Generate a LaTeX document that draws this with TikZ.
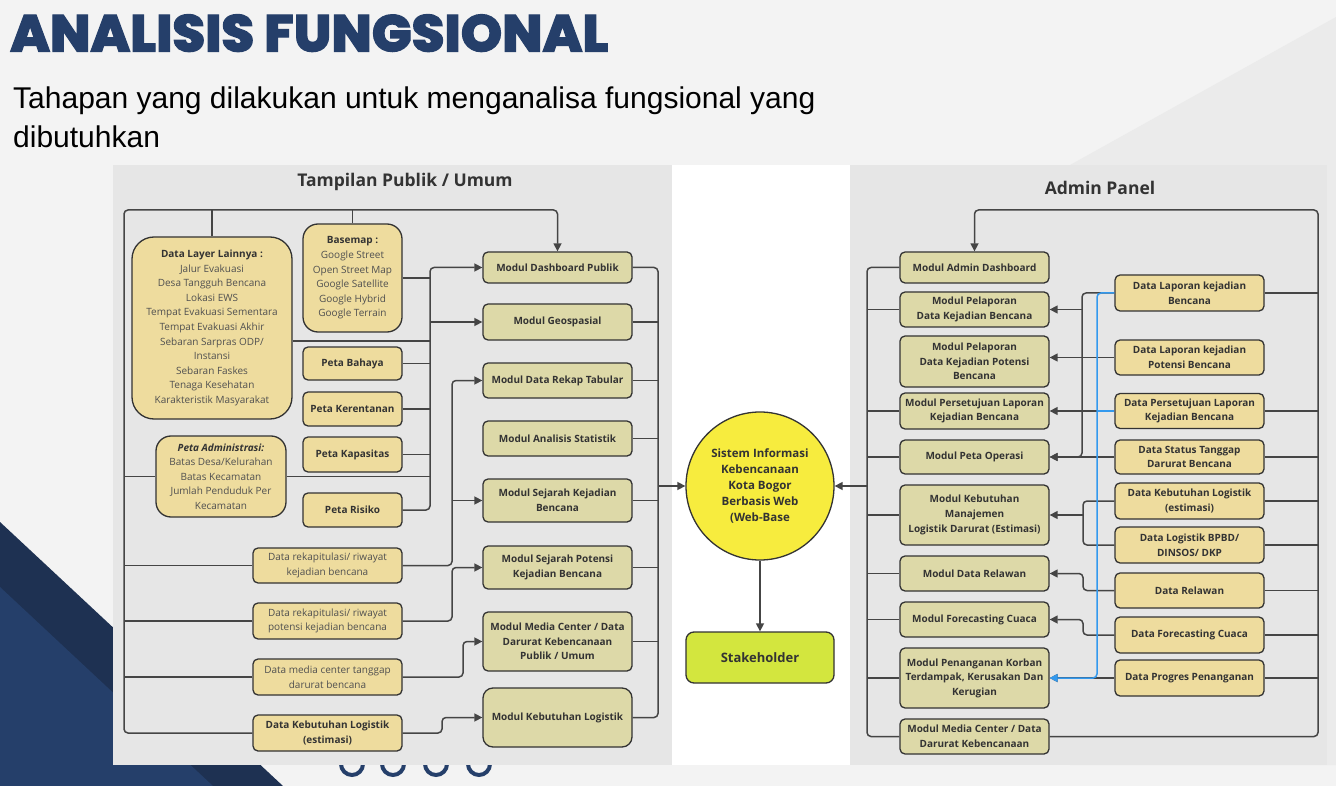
\documentclass[tikz,border=0pt]{standalone}
\usepackage{fontspec}
\setmainfont{Open Sans}
\newfontfamily\titlefont{Poppins}[BoldFont={* ExtraBold}, BoldFeatures={FakeBold=2.2}]
\newfontfamily\subfont{Liberation Sans}
\usetikzlibrary{arrows.meta}

\definecolor{bgpage}{HTML}{F3F3F3}
\definecolor{bgshade}{HTML}{EBEBEB}
\definecolor{panel}{HTML}{E6E6E6}
\definecolor{navy}{HTML}{253F6A}
\definecolor{navydark}{HTML}{1E3152}
\definecolor{datafill}{HTML}{EEDC9E}
\definecolor{modfill}{HTML}{DDD9A8}
\definecolor{ink}{HTML}{333333}
\definecolor{soft}{HTML}{505050}
\definecolor{wirec}{HTML}{454545}
\definecolor{sysyellow}{HTML}{F7EC3E}
\definecolor{lime}{HTML}{D3E63E}
\definecolor{link}{HTML}{3399EE}

\tikzset{
  box/.style={draw=ink, line width=1.3pt, align=center, inner sep=0pt, text=ink,
    font=\bfseries\fontsize{10}{14.6}\selectfont, rounded corners=5pt},
  databox/.style={box, fill=datafill},
  modbox/.style={box, fill=modfill},
  plain/.style={font=\mdseries\fontsize{10}{14.6}\selectfont, text=soft},
  wire/.style={draw=wirec, line width=1.5pt, rounded corners=4pt},
  arr/.style={-{Triangle[length=8pt,width=8pt]}},
  ptitle/.style={font=\bfseries\fontsize{17.5}{17.5}\selectfont, text=ink, inner sep=0pt},
}

\begin{document}
\begin{tikzpicture}[x=1pt,y=-1pt]
\useasboundingbox (0,0) rectangle (1336,786);

% page background
\fill[bgpage] (0,0) rectangle (1336,786);
\fill[bgshade] (1070,165) -- (1336,17) -- (1336,765) -- (1070,765) -- cycle;

% navy corner decoration
\fill[navydark] (0,522) -- (283,786) -- (0,786) -- cycle;
\fill[navy] (0,587) -- (213,786) -- (0,786) -- cycle;

% slide dots
\foreach \cx in {352,393,436,479}
  \draw[navy, line width=4pt] (\cx,764) circle[radius=11];

% diagram panels
\fill[white] (113,165) rectangle (1327,765);
\fill[panel] (113,165) rectangle (672,765);
\fill[panel] (850,165) rectangle (1327,765);

% heading
\node[anchor=south west, inner sep=0pt, text=navy] (title) at (10,52)
  {\resizebox{598pt}{37pt}{\titlefont\bfseries ANALISIS FUNGSIONAL}};
\node[anchor=north west, inner sep=0pt, align=left, text=black,
  font=\subfont\fontsize{30}{38.5}\selectfont] (subtitle) at (13,87)
  {Tahapan yang dilakukan untuk menganalisa fungsional yang\\dibutuhkan};

\node[ptitle] (tpub) at (405,182) {Tampilan Publik / Umum};
\node[ptitle] (tadm) at (1100,188) {Admin Panel};

% ---------- public side: data sources ----------
\node[databox, plain, minimum width=160pt, minimum height=182pt, rounded corners=22pt] (dl) at (212,328)
  {\textcolor{ink}{\bfseries Data Layer Lainnya :}\\ Jalur Evakuasi\\ Desa Tangguh Bencana\\ Lokasi EWS\\
   Tempat Evakuasi Sementara\\ Tempat Evakuasi Akhir\\ Sebaran Sarpras ODP/\\ Instansi\\ Sebaran Faskes\\
   Tenaga Kesehatan\\ Karakteristik Masyarakat};
\node[databox, plain, minimum width=99pt, minimum height=108pt, rounded corners=15pt] (bm) at (352.5,278)
  {\textcolor{ink}{\bfseries Basemap :}\\ Google Street\\ Open Street Map\\ Google Satellite\\ Google Hybrid\\ Google Terrain};
\node[databox, minimum width=99pt, minimum height=33pt] (pB) at (352.5,363.5) {Peta Bahaya};
\node[databox, minimum width=99pt, minimum height=34pt] (pKer) at (352.5,409) {Peta Kerentanan};
\node[databox, minimum width=99pt, minimum height=35pt] (pKap) at (352.5,454.5) {Peta Kapasitas};
\node[databox, minimum width=99pt, minimum height=34pt] (pRis) at (352.5,510) {Peta Risiko};
\node[databox, plain, minimum width=130pt, minimum height=81pt, rounded corners=15pt] (pAdm) at (221,476.5)
  {\textcolor{ink}{\bfseries\itshape Peta Administrasi:}\\ Batas Desa/Kelurahan\\ Batas Kecamatan\\ Jumlah Penduduk Per\\ Kecamatan};
\node[databox, plain, minimum width=149pt, minimum height=35pt] (dRK) at (327.5,565.5)
  {Data rekapitulasi/ riwayat\\ kejadian bencana};
\node[databox, plain, minimum width=149pt, minimum height=36pt] (dRP) at (327.5,621)
  {Data rekapitulasi/ riwayat\\ potensi kejadian bencana};
\node[databox, plain, minimum width=149pt, minimum height=36pt] (dMC) at (327.5,677)
  {Data media center tanggap\\ darurat bencana};
\node[databox, minimum width=149pt, minimum height=36pt] (dKL) at (327.5,733)
  {Data Kebutuhan Logistik\\ (estimasi)};

% ---------- public side: modules ----------
\node[modbox, minimum width=149pt, minimum height=31pt] (mDash) at (557.5,267.5) {Modul Dashboard Publik};
\node[modbox, minimum width=149pt, minimum height=36pt] (mGeo) at (557.5,322) {Modul Geospasial};
\node[modbox, minimum width=149pt, minimum height=35pt] (mRek) at (557.5,380.5) {Modul Data Rekap Tabular};
\node[modbox, minimum width=149pt, minimum height=35pt] (mAna) at (557.5,438.5) {Modul Analisis Statistik};
\node[modbox, minimum width=149pt, minimum height=43pt] (mSejK) at (557.5,500.5) {Modul Sejarah Kejadian\\ Bencana};
\node[modbox, minimum width=149pt, minimum height=43pt] (mSejP) at (557.5,567.5) {Modul Sejarah Potensi\\ Kejadian Bencana};
\node[modbox, minimum width=149pt, minimum height=59pt] (mMC) at (557.5,641.5) {Modul Media Center / Data\\ Darurat Kebencanaan\\ Publik / Umum};
\node[modbox, minimum width=149pt, minimum height=59pt, rounded corners=10pt] (mKL) at (557.5,717.5) {Modul Kebutuhan Logistik};

% ---------- centre ----------
\node[draw=ink, line width=1.3pt, fill=sysyellow, circle, minimum size=148pt, inner sep=0pt,
  align=center, text=ink, font=\bfseries\fontsize{11.5}{16}\selectfont] (sys) at (760,486)
  {Sistem Informasi\\ Kebencanaan\\ Kota Bogor\\ Berbasis Web\\ (Web-Base};
\node[box, fill=lime, minimum width=148pt, minimum height=51pt, rounded corners=8pt,
  font=\bfseries\fontsize{13}{14}\selectfont] (sh) at (760,657.5) {Stakeholder};

% ---------- admin side: modules ----------
\node[modbox, minimum width=149pt, minimum height=31pt] (aDash) at (974.5,267.5) {Modul Admin Dashboard};
\node[modbox, minimum width=149pt, minimum height=35pt] (aPelK) at (974.5,309.5) {Modul Pelaporan\\ Data Kejadian Bencana};
\node[modbox, minimum width=149pt, minimum height=51pt] (aPelP) at (974.5,361.5) {Modul Pelaporan\\ Data Kejadian Potensi\\ Bencana};
\node[modbox, minimum width=149pt, minimum height=36pt] (aPers) at (974.5,411) {Modul Persetujuan Laporan\\ Kejadian Bencana};
\node[modbox, minimum width=149pt, minimum height=34pt] (aPeta) at (974.5,457) {Modul Peta Operasi};
\node[modbox, minimum width=149pt, minimum height=60pt] (aKeb) at (974.5,515) {Modul Kebutuhan\\ Manajemen\\ Logistik Darurat (Estimasi)};
\node[modbox, minimum width=149pt, minimum height=35pt] (aRel) at (974.5,573.5) {Modul Data Relawan};
\node[modbox, minimum width=149pt, minimum height=35pt] (aFor) at (974.5,619.5) {Modul Forecasting Cuaca};
\node[modbox, minimum width=149pt, minimum height=60pt] (aPen) at (974.5,678) {Modul Penanganan Korban\\ Terdampak, Kerusakan Dan\\ Kerugian};
\node[modbox, minimum width=149pt, minimum height=35pt] (aMC) at (974.5,736.5) {Modul Media Center / Data\\ Darurat Kebencanaan};

% ---------- admin side: data ----------
\node[databox, minimum width=149pt, minimum height=36pt] (rLapK) at (1189.5,293) {Data Laporan kejadian\\ Bencana};
\node[databox, minimum width=149pt, minimum height=35pt] (rLapP) at (1189.5,357.5) {Data Laporan kejadian\\ Potensi Bencana};
\node[databox, minimum width=149pt, minimum height=35pt] (rPers) at (1189.5,411) {Data Persetujuan Laporan\\ Kejadian Bencana};
\node[databox, minimum width=149pt, minimum height=34pt] (rStat) at (1189.5,457) {Data Status Tanggap\\ Darurat Bencana};
\node[databox, minimum width=149pt, minimum height=36pt] (rKeb) at (1189.5,501) {Data Kebutuhan Logistik\\ (estimasi)};
\node[databox, minimum width=149pt, minimum height=36pt] (rLog) at (1189.5,545) {Data Logistik BPBD/\\ DINSOS/ DKP};
\node[databox, minimum width=149pt, minimum height=35pt] (rRel) at (1189.5,590.5) {Data Relawan};
\node[databox, minimum width=149pt, minimum height=36pt] (rFor) at (1189.5,635) {Data Forecasting Cuaca};
\node[databox, minimum width=149pt, minimum height=36pt] (rProg) at (1189.5,678) {Data Progres Penanganan};

% ---------- public side wiring ----------
\draw[wire,arr] (dKL.west) -- (124,733) -- (124,210) -- (557.5,210) -- (mDash.north);
\draw[wire] (dl.north) -- (212,210);
\draw[wire] (bm.north) -- (352.5,210);
\draw[wire] (pAdm.west) -- (124,476.5);
\draw[wire] (dRK.west) -- (124,565.5);
\draw[wire] (dRP.west) -- (124,621);
\draw[wire] (dMC.west) -- (124,677);

\draw[wire,arr] (pRis.east) -- (430,510) -- (430,267.5) -- (mDash.west);
\draw[wire,arr] (430,322) -- (mGeo.west);
\draw[wire] (bm.east) -- (430,278);
\draw[wire] ([yshift=-13pt]dl.east) -- (430,341);
\draw[wire] (pB.east) -- (430,363.5);
\draw[wire] (pKer.east) -- (430,409);
\draw[wire] (pKap.east) -- (430,454.5);
\draw[wire] (pAdm.east) -- (430,476.5);

\draw[wire,arr] (dRK.east) -- (452,565.5) -- (452,380.5) -- (mRek.west);
\draw[wire,arr] (452,500.5) -- (mSejK.west);
\draw[wire,arr] (dRP.east) -- (452,621) -- (452,567.5) -- (mSejP.west);
\draw[wire,arr] (dMC.east) -- (463,677) -- (463,641.5) -- (mMC.west);
\draw[wire,arr] (dKL.east) -- (442,733) -- (442,717.5) -- (mKL.west);

\draw[wire] (mDash.east) -- (658,267.5) -- (658,717.5) -- (mKL.east);
\foreach \m in {mGeo,mRek,mAna,mSejK,mSejP,mMC}
  \draw[wire] (\m.east) -- (\m.east -| 658,0);
\draw[wire,arr] (658,486) -- (sys.west);

\draw[wire,arr] (sys.south) -- (sh.north);

% ---------- admin side wiring ----------
\draw[wire,arr] (aMC.east) -- (1318,736.5) -- (1318,210) -- (974.5,210) -- (aDash.north);
\foreach \d in {rLapK,rPers,rStat,rKeb,rLog,rRel,rFor,rProg}
  \draw[wire] (\d.east) -- (\d.east -| 1318,0);

\draw[wire] (aDash.west) -- (867,267.5) -- (867,736.5) -- (aMC.west);
\foreach \m in {aPelK,aPers,aPeta,aKeb,aRel,aFor,aPen}
  \draw[wire] (\m.west) -- (\m.west -| 867,0);
\draw[wire,arr] (867,486) -- (sys.east);

\draw[wire,arr] (rLapK.west) -- (1082,293) -- (1082,457) -- (aPeta.east);
\draw[wire,arr] (1082,309.5) -- (aPelK.east);
\draw[wire,arr] (rLapP.west) -- (rLapP.west -| aPelP.east);
\draw[wire,arr] (rPers.west) -- (aPers.east);
\draw[wire,arr] (rStat.west) -- (aPeta.east);
\draw[wire] (rKeb.west) -- (1083,501) -- (1083,545) -- (rLog.west);
\draw[wire,arr] (1083,515) -- (aKeb.east);
\draw[wire,arr] (rRel.west) -- (1083,590.5) -- (1083,573.5) -- (aRel.east);
\draw[wire,arr] (rFor.west) -- (1083,635) -- (1083,619.5) -- (aFor.east);
\draw[wire,arr] (rProg.west) -- (aPen.east);

\draw[wire,draw=link,arr] (rLapK.west) -- (1097,293) -- (1097,678) -- (aPen.east);
\draw[wire,draw=link] (rPers.west) -- (1097,411);
\end{tikzpicture}
\end{document}
